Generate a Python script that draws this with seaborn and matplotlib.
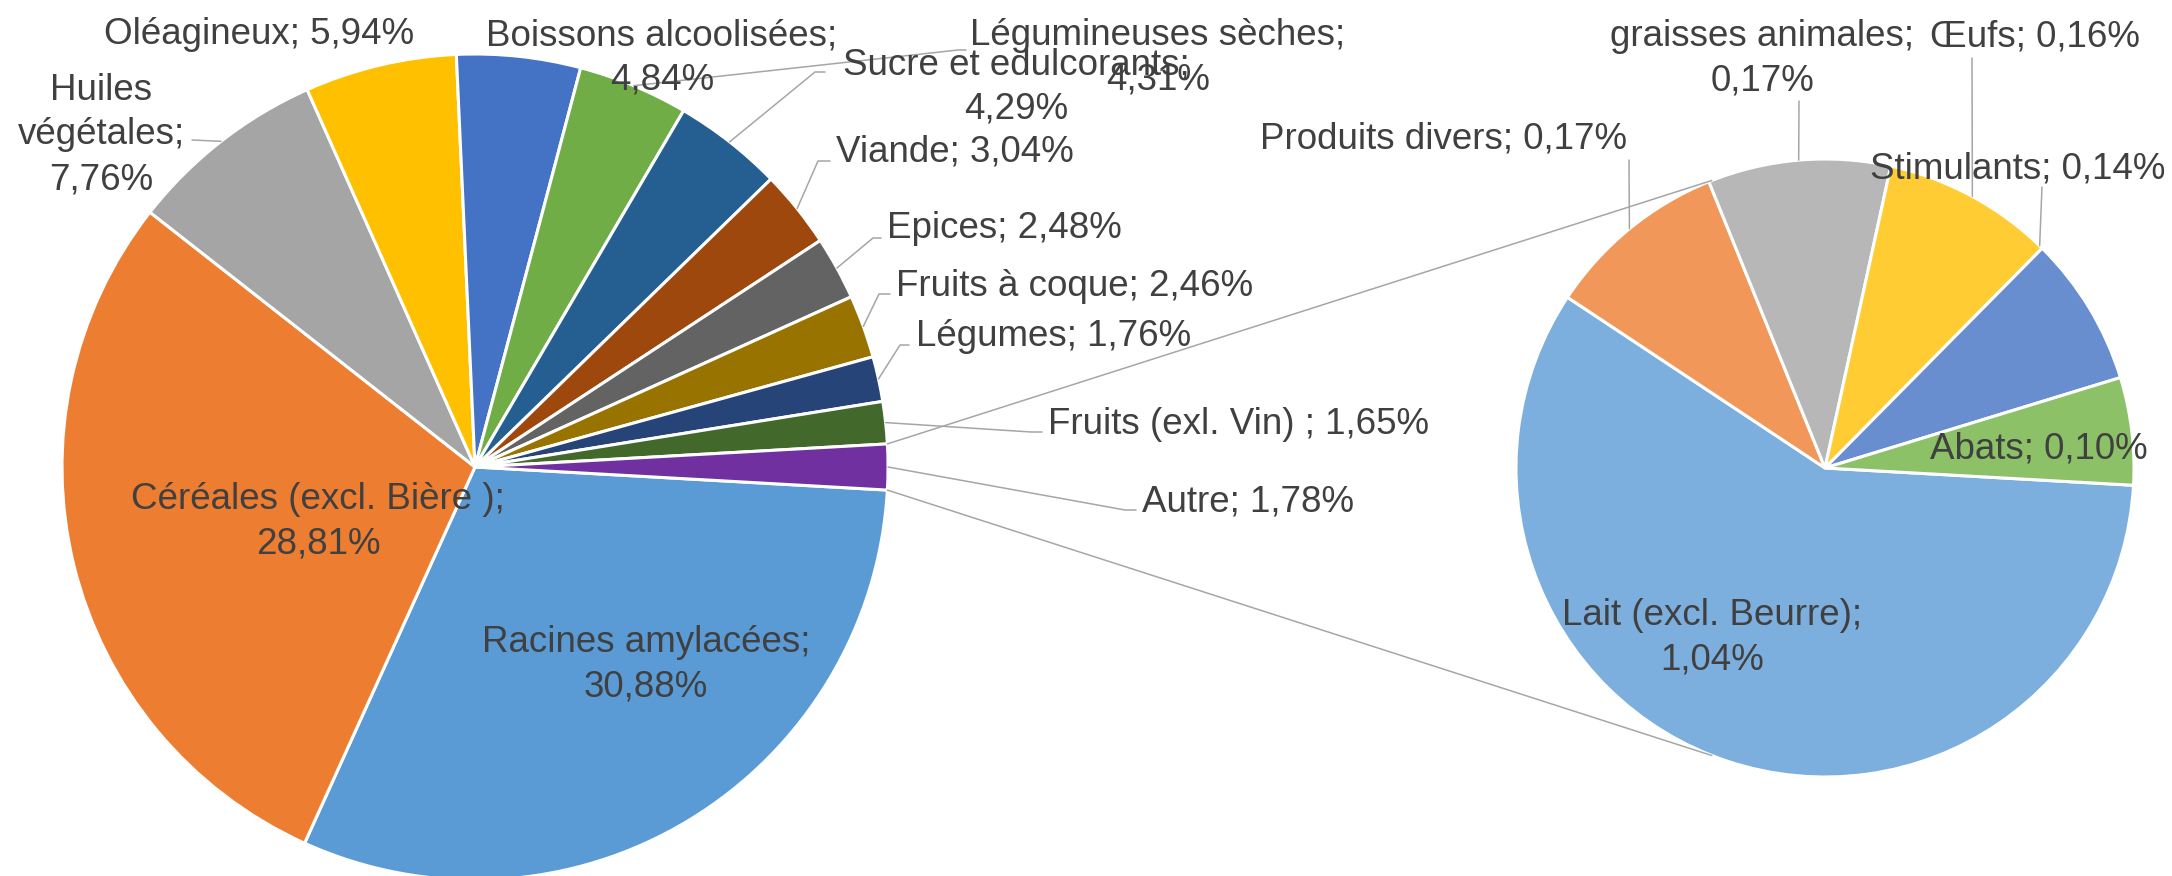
import numpy as np
import matplotlib.pyplot as plt
import seaborn as sns

sns.set_theme(style="white")
plt.rcParams["font.family"] = ["Liberation Sans", "DejaVu Sans"]

# --------- DATA ---------
main_labels = ["Racines amylacées", "Céréales (excl. Bière )", "Huiles végétales",
               "Oléagineux", "Boissons alcoolisées", "Légumineuses sèches",
               "Sucre et edulcorants", "Viande", "Epices", "Fruits à coque",
               "Légumes", "Fruits (exl. Vin) ", "Autre"]
main_values = [30.88, 28.81, 7.76, 5.94, 4.84, 4.31, 4.29, 3.04, 2.48, 2.46, 1.76, 1.65, 1.78]

sub_labels = ["Lait (excl. Beurre)", "Produits divers", "graisses animales",
              "Œufs", "Stimulants", "Abats"]
sub_values = [1.04, 0.17, 0.17, 0.16, 0.14, 0.10]

main_colors = ["#5B9BD5", "#ED7D31", "#A5A5A5", "#FFC000", "#4472C4", "#70AD47",
               "#255E91", "#9E480E", "#636363", "#997300", "#264478", "#43682B", "#7030A0"]
sub_colors = ["#7CAFDD", "#F1975A", "#B7B7B7", "#FFCD33", "#698ED0", "#8CC168"]

# --------- LAYOUT (pixels, y from top) ---------
W, H = 2172, 876
main_center, main_r = (475, 467), 413
sub_center, sub_r = (1825, 468), 309
text_color = "#404040"
line_color = "#A6A6A6"
fs = 26.5

# label box centre, wrap mode, leader points after the wedge edge
main_layout = [
    ((646, 665), "two", None),
    ((318, 522), "two", None),
    ((101, 135), "three", [(192, 140)]),
    ((259, 35), "one", None),
    ((662, 58), "two", None),
    ((1158, 58), "two", [(958, 50), (966, 50)]),
    ((1016, 87), "two", [(815, 72), (825, 72)]),
    ((955, 152), "one", [(818, 161), (830, 161)]),
    ((1004, 229), "one", [(873, 238), (881, 238)]),
    ((1075, 286), "one", [(879, 294), (890, 294)]),
    ((1054, 336), "one", [(900, 345), (909, 345)]),
    ((1238, 424), "one", [(1031, 432), (1042, 432)]),
    ((1248, 502), "one", [(1125, 510), (1136, 510)]),
]
sub_layout = [
    ((1712, 638), "two", None, None),
    ((1444, 139), "one", [(1629, 160)], None),
    ((1762, 59), "two", [(1799, 101)], None),
    ((2035, 37), "one", [(1972, 58)], None),
    ((2018, 169), "one", [(2042, 187)], 46),
    ((2039, 449), "one", None, None),
]
connector_angle = 111.5


def to_data(p):
    return (p[0], H - p[1])


def fmt(name, v, mode):
    val = f"{v:.2f}".replace(".", ",") + "%"
    if mode == "one":
        return f"{name}; {val}"
    if mode == "two":
        return f"{name};\n{val}"
    return name.replace(" ", "\n") + f";\n{val}"


def edge(center, r, ang):
    c = to_data(center)
    return (c[0] + r * np.cos(np.radians(ang)), c[1] + r * np.sin(np.radians(ang)))


start = -main_values[-1] / sum(main_values) * 180

fig = plt.figure(figsize=(W / 100, H / 100), dpi=100)
ax = fig.add_axes([0, 0, 1, 1])

wedges_main, _ = ax.pie(main_values, colors=sns.color_palette(main_colors),
                        startangle=start, counterclock=False,
                        center=to_data(main_center), radius=main_r,
                        wedgeprops=dict(edgecolor="white", linewidth=2.2))
wedges_sub, _ = ax.pie(sub_values, colors=sns.color_palette(sub_colors),
                       startangle=start, counterclock=False,
                       center=to_data(sub_center), radius=sub_r,
                       wedgeprops=dict(edgecolor="white", linewidth=2.2))

# connector lines between the "Autre" slice and the second pie
autre = wedges_main[-1]
for a_main, a_sub in [(autre.theta2, connector_angle), (autre.theta1, -connector_angle)]:
    p0 = edge(main_center, main_r, a_main)
    p1 = edge(sub_center, sub_r, a_sub)
    ax.plot([p0[0], p1[0]], [p0[1], p1[1]], color=line_color, lw=1.1, zorder=1)


def draw_labels(wedges, names, values, layout, center, r):
    for w, name, v, item in zip(wedges, names, values, layout):
        pos, mode, leader = item[0], item[1], item[2]
        override = item[3] if len(item) > 3 else None
        if leader:
            ang = override if override is not None else (w.theta1 + w.theta2) / 2
            pts = [edge(center, r, ang)] + [to_data(p) for p in leader]
            xs, ys = zip(*pts)
            ax.plot(xs, ys, color=line_color, lw=1.1, zorder=3)
        x, y = to_data(pos)
        ax.text(x, y, fmt(name, v, mode), ha="center", va="center",
                multialignment="center", fontsize=fs, color=text_color,
                linespacing=1.36, zorder=4)


draw_labels(wedges_main, main_labels, main_values, main_layout, main_center, main_r)
draw_labels(wedges_sub, sub_labels, sub_values, sub_layout, sub_center, sub_r)

ax.set_xlim(0, W)
ax.set_ylim(0, H)
ax.set_aspect("equal")
ax.axis("off")

fig.savefig("out.png", dpi=100)
plt.close()
